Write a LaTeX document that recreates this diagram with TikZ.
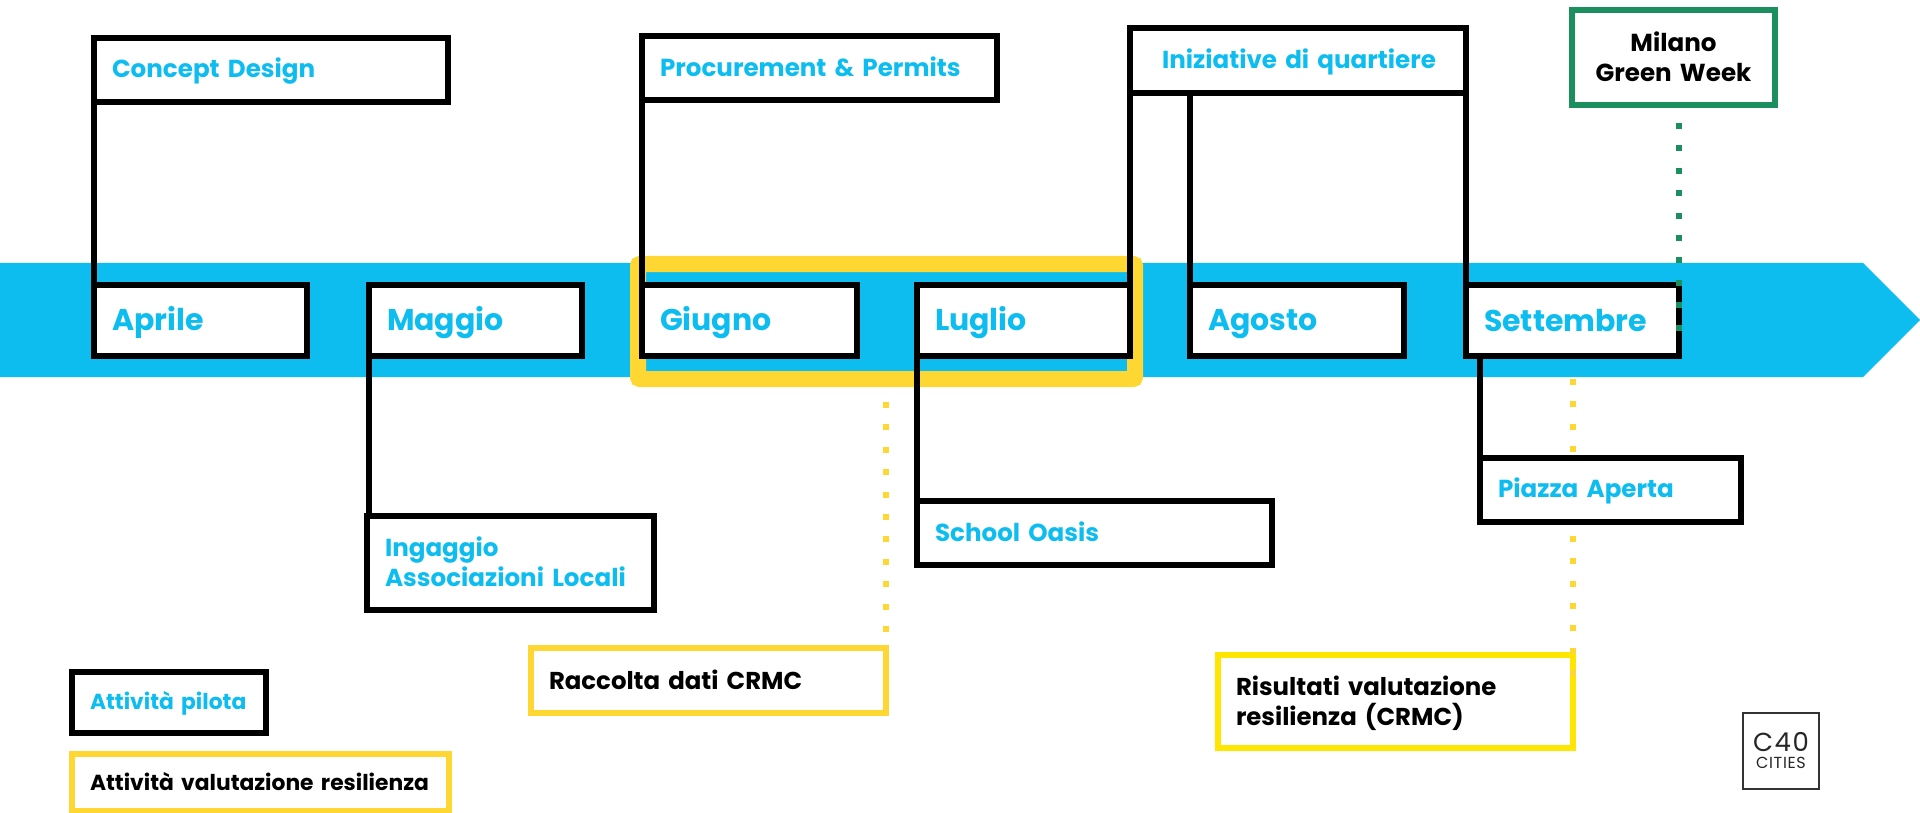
\documentclass[tikz,border=0pt]{standalone}
\usepackage{fontspec}
\setmainfont{Poppins}
\definecolor{cy}{HTML}{0DBDF0}
\definecolor{yl}{HTML}{FFD733}
\definecolor{yp}{HTML}{FFE600}
\definecolor{gr}{HTML}{1C8F5F}
\newcommand{\st}{\rule[-.19em]{0pt}{1.1em}}
\tikzset{
  bx/.style={draw=black,fill=white,line width=5.2pt,outer sep=0pt,inner xsep=18pt,inner ysep=0pt,align=left,text=cy},
  month/.style={bx,font=\bfseries\fontsize{30}{36}\selectfont},
  act/.style={bx,font=\bfseries\fontsize{24.6}{28.5}\selectfont},
  crmc/.style={bx,draw=yl,text=black,font=\bfseries\fontsize{24.4}{30}\selectfont},
  legend/.style={bx,font=\bfseries\fontsize{21.8}{26}\selectfont},
  wire/.style={line width=5.2pt,black,line cap=round},
  dotsy/.style={line width=6pt,yl,dash pattern=on 6pt off 16.4pt},
  dotsg/.style={line width=6pt,gr,dash pattern=on 6pt off 16.4pt},
}
% name, x1,y1,x2,y2, style, text
\newcommand{\bxn}[7]{%
  \pgfmathsetmacro{\bxcx}{(#2+#4)/2}\pgfmathsetmacro{\bxcy}{(#3+#5)/2}%
  \pgfmathsetmacro{\bxw}{#4-#2-36}\pgfmathsetmacro{\bxh}{#5-#3}%
  \node[#6,text width=\bxw pt,minimum height=\bxh pt] (#1) at (\bxcx,\bxcy) {#7};}
\begin{document}
\begin{tikzpicture}[x=1pt,y=-1pt]
\useasboundingbox (0,0) rectangle (1920,813);
\fill[cy] (0,263) -- (1863,263) -- (1920,320) -- (1863,377) -- (0,377) -- cycle;
\node[draw=yl,line width=16pt,rounded corners=2pt,minimum width=497pt,minimum height=115pt,inner sep=0pt,outer sep=0pt] (frame) at (886.5,321.5) {};

\bxn{raccolta}{531}{648}{886}{713}{crmc}{\st Raccolta dati CRMC}
\bxn{risultati}{1218}{655}{1573}{748}{crmc,draw=yp}{\st Risultati valutazione\\\st resilienza (CRMC)}

\bxn{aprile}{94}{285}{307}{356}{month}{\st Aprile}
\bxn{maggio}{369}{285}{582}{356}{month}{\st Maggio}
\bxn{giugno}{642}{285}{857}{356}{month}{\st Giugno}
\bxn{luglio}{917}{285}{1130}{356}{month}{\st Luglio}
\bxn{agosto}{1190}{285}{1404}{356}{month}{\st Agosto}
\bxn{settembre}{1466}{285}{1679}{356}{month}{\st Settembre}

\draw[dotsy,shorten <=23pt] (raccolta.north east |- frame.south) -- (raccolta.north east);
\draw[dotsy,shorten <=23pt,shorten >=22pt] (risultati.east |- settembre.south) -- (risultati.east);

\bxn{concept}{94}{38}{448}{102}{act}{\st Concept Design}
\bxn{procurement}{642}{36}{997}{100}{act}{\st Procurement \& Permits}
\bxn{iniziative}{1130}{28}{1466}{93}{act}{\st\hspace*{14pt}Iniziative di quartiere}
\bxn{ingaggio}{367}{516}{654}{610}{act}{\st Ingaggio\\\st Associazioni Locali}
\bxn{school}{917}{501}{1272}{565}{act}{\st School Oasis}
\bxn{piazza}{1480}{458}{1741}{522}{act}{\st Piazza Aperta}

\bxn{milano}{1572}{10}{1775}{105}{bx,draw=gr,text=black,align=center,font=\bfseries\fontsize{24.6}{29.5}\selectfont}{\st Milano\\\st Green Week}
\bxn{legp}{72}{672}{266}{733}{legend}{\st Attività pilota}
\bxn{legr}{72}{754}{449}{811}{legend,draw=yl,text=black}{\st Attività valutazione resilienza}

\draw[wire] (aprile.north west) -- (concept.south west);
\draw[wire] (giugno.north west) -- (procurement.south west);
\draw[wire] (luglio.north east) -- (iniziative.south west);
\draw[wire] (agosto.north west) -- (agosto.north west |- iniziative.south);
\draw[wire] (settembre.north west) -- (iniziative.south east);
\draw[wire] (maggio.south west) -- (maggio.south west |- ingaggio.north);
\draw[wire] (luglio.south west) -- (school.north west);
\draw[wire] (piazza.north west |- settembre.south) -- (piazza.north west);

\draw[dotsg,shorten <=18pt,shorten >=22pt] (settembre.east |- milano.south) -- (settembre.south east);

\node[draw=black!80,fill=white,line width=2pt,minimum width=76pt,minimum height=76pt,inner sep=0pt,outer sep=0pt,text=black!85,align=center] (logo) at (1781,751) {\addfontfeature{LetterSpace=6}\fontsize{26}{26}\selectfont C40\\[5pt]\addfontfeature{LetterSpace=4}\fontsize{16}{16}\selectfont CITIES};
\end{tikzpicture}
\end{document}
